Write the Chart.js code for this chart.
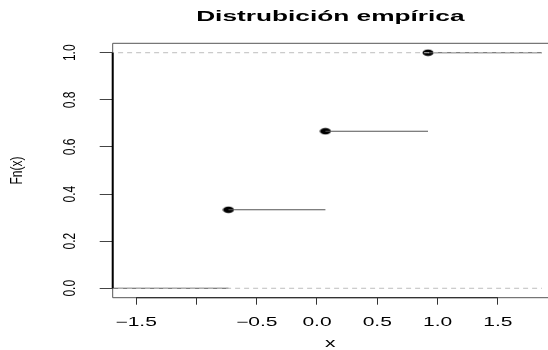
<!DOCTYPE html>
<html>
<head>
<meta charset="utf-8">
<script src="https://cdn.jsdelivr.net/npm/chart.js@4.4.0/dist/chart.umd.min.js"></script>
<style>
    html, body { margin: 0; padding: 0; background: #fff; }
    #wrap { width: 548px; height: 350px; position: relative; }
</style>
</head>
<body>
<div id="wrap"><canvas id="ecdf-chart"></canvas></div>
<script>
// ecdf knots and values
const knots = [-0.734, 0.070, 0.921];
const fnValues = [0.3333, 0.6667, 1.0];
const guideLevels = [0, 1];

const xTicks = [-1.5, -1.0, -0.5, 0.0, 0.5, 1.0, 1.5];
const xTickLabels = ['\u22121.5', '', '\u22120.5', '0.0', '0.5', '1.0', '1.5'];
const yTicks = [0.0, 0.2, 0.4, 0.6, 0.8, 1.0];
const yTickLabels = ['0.0', '0.2', '0.4', '0.6', '0.8', '1.0'];

const xMin = -1.694, xMax = 1.866;
const yMin = -0.04, yMax = 1.04;

const titleText = 'Distrubición empírica';
const xTitle = 'x';
const yTitle = 'Fn(x)';

// filled dot, wider than tall like the reference
function makeDot() {
    const c = document.createElement('canvas');
    c.width = 12;
    c.height = 8;
    const g = c.getContext('2d');
    g.fillStyle = '#000';
    g.beginPath();
    g.ellipse(6, 4, 5.5, 3.3, 0, 0, Math.PI * 2);
    g.fill();
    return c;
}

// outer steps run past the plot edges and get clipped, as R does
function stepData() {
    const levels = [0, ...fnValues];
    const edges = [xMin - 1, ...knots, xMax + 1];
    const pts = [];
    for (let i = 0; i < levels.length; i++) {
        pts.push({ x: edges[i], y: levels[i] });
        pts.push({ x: edges[i + 1], y: levels[i] });
        pts.push({ x: edges[i + 1], y: null });
    }
    return pts;
}

function drawText(ctx, text, x, y, font, sx, rot) {
    ctx.save();
    ctx.translate(x, y);
    ctx.scale(sx, 1);
    ctx.rotate(rot || 0);
    ctx.font = font;
    ctx.fillStyle = '#000';
    ctx.textAlign = 'center';
    ctx.textBaseline = 'middle';
    ctx.fillText(text, 0, 0);
    ctx.restore();
}

const rFrame = {
    id: 'rFrame',
    afterDraw(chart) {
        const ctx = chart.ctx;
        const a = chart.chartArea;
        const xs = chart.scales.x;
        const ys = chart.scales.y;

        // box (right side falls outside the picture)
        ctx.save();
        ctx.strokeStyle = '#555';
        ctx.lineWidth = 1;
        ctx.beginPath();
        ctx.moveTo(chart.width, a.top);
        ctx.lineTo(a.left, a.top);
        ctx.lineTo(a.left, a.bottom);
        ctx.lineTo(chart.width, a.bottom);
        ctx.stroke();

        // axis lines run from first to last tick
        ctx.strokeStyle = '#000';
        ctx.lineWidth = 2;
        ctx.beginPath();
        ctx.moveTo(a.left, ys.getPixelForValue(yTicks[0]));
        ctx.lineTo(a.left, ys.getPixelForValue(yTicks[yTicks.length - 1]));
        ctx.stroke();
        ctx.strokeStyle = '#333';
        ctx.lineWidth = 1.2;
        ctx.beginPath();
        ctx.moveTo(xs.getPixelForValue(xTicks[0]), a.bottom);
        ctx.lineTo(xs.getPixelForValue(xTicks[xTicks.length - 1]), a.bottom);
        ctx.stroke();
        ctx.restore();

        const mid = (a.left + chart.width) / 2;
        drawText(ctx, titleText, mid, 17, 'bold 15px "Liberation Sans", Arial, sans-serif', 1.75);

        xTicks.forEach((v, i) => {
            if (!xTickLabels[i]) return;
            drawText(ctx, xTickLabels[i], xs.getPixelForValue(v), 323, '12px "Liberation Sans", Arial, sans-serif', 1.75);
        });
        yTicks.forEach((v, i) => {
            drawText(ctx, yTickLabels[i], 70, ys.getPixelForValue(v), '12px "Liberation Sans", Arial, sans-serif', 1.45, -Math.PI / 2);
        });

        drawText(ctx, xTitle, mid, 344, '12px "Liberation Sans", Arial, sans-serif', 1.75);
        drawText(ctx, yTitle, 18, (a.top + a.bottom) / 2, '12px "Liberation Sans", Arial, sans-serif', 1.35, -Math.PI / 2);
    }
};

const ctx = document.getElementById('ecdf-chart').getContext('2d');

const datasets = guideLevels.map(level => ({
    data: [{ x: xMin - 1, y: level }, { x: xMax + 1, y: level }],
    showLine: true,
    borderColor: '#bdbdbd',
    borderWidth: 1,
    borderDash: [5, 4],
    pointRadius: 0
}));

datasets.push({
    data: stepData(),
    showLine: true,
    spanGaps: false,
    borderColor: '#555',
    borderWidth: 1.1,
    pointRadius: 0
});

datasets.push({
    data: knots.map((k, i) => ({ x: k, y: fnValues[i] })),
    showLine: false,
    pointStyle: makeDot(),
    pointRadius: 5
});

new Chart(ctx, {
    type: 'scatter',
    data: { datasets: datasets },
    options: {
        responsive: true,
        maintainAspectRatio: false,
        animation: false,
        layout: { padding: { top: 43.3, left: 0, right: 0, bottom: 0 } },
        plugins: {
            legend: { display: false },
            tooltip: { enabled: false },
            title: { display: false }
        },
        scales: {
            x: {
                type: 'linear',
                min: xMin,
                max: xMax,
                afterBuildTicks: s => { s.ticks = xTicks.map(v => ({ value: v })); },
                afterFit: s => { s.height = 52.3; },
                ticks: { display: false },
                border: { display: false },
                grid: { drawOnChartArea: false, drawTicks: true, tickLength: 7, color: '#333', lineWidth: 1 }
            },
            y: {
                type: 'linear',
                min: yMin,
                max: yMax,
                afterBuildTicks: s => { s.ticks = yTicks.map(v => ({ value: v })); },
                afterFit: s => { s.width = 112.7; },
                ticks: { display: false },
                border: { display: false },
                grid: { drawOnChartArea: false, drawTicks: true, tickLength: 13, color: '#444', lineWidth: 1 }
            }
        }
    },
    plugins: [rFrame]
});
</script>
</body>
</html>
